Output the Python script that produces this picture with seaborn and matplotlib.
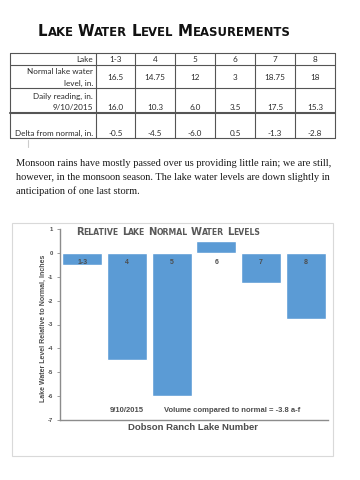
import matplotlib
matplotlib.use("Agg")
import matplotlib.pyplot as plt
import seaborn as sns
import pandas as pd
from matplotlib.offsetbox import TextArea, HPacker, AnchoredOffsetbox

# ---------------- data ----------------
lakes = ["1-3", "4", "5", "6", "7", "8"]
normal_level = ["16.5", "14.75", "12", "3", "18.75", "18"]
daily_reading = ["16.0", "10.3", "6.0", "3.5", "17.5", "15.3"]
delta_text = ["-0.5", "-4.5", "-6.0", "0.5", "-1.3", "-2.8"]
delta_values = [-0.5, -4.5, -6.0, 0.5, -1.25, -2.75]
yticks = [1, 0, -1, -2, -3, -4, -5, -6, -7]

page_title = "Lake Water Level Measurements"
chart_title = "Relative Lake Normal Water Levels"
paragraph = [
    "Monsoon rains have mostly passed over us providing little rain; we are still,",
    "however, in the monsoon season. The lake water levels are down slightly in",
    "anticipation of one last storm.",
]
date_note = "9/10/2015"
volume_note = "Volume compared to normal = -3.8 a-f"
xlabel = "Dobson Ranch Lake Number"
ylabel = "Lake Water Level Relative to Normal, Inches"

sns.set_style("white")
plt.rcParams["font.family"] = ["DejaVu Sans"]

W, H = 360, 480
fig = plt.figure(figsize=(W / 100, H / 100), dpi=100)
fig.patch.set_facecolor("white")

bg = fig.add_axes([0, 0, 1, 1])
bg.set_xlim(0, W)
bg.set_ylim(H, 0)
bg.axis("off")


def small_caps(text, big, small, color, family, x, y, gap):
    words = []
    for w in text.split(" "):
        parts = [TextArea(w[0], textprops=dict(fontsize=big, fontweight="bold",
                                                color=color, family=family))]
        if len(w) > 1:
            parts.append(TextArea(w[1:].upper(), textprops=dict(fontsize=small, fontweight="bold",
                                                                 color=color, family=family)))
        words.append(HPacker(children=parts, align="baseline", pad=0, sep=0))
    box = HPacker(children=words, align="baseline", pad=0, sep=gap)
    ab = AnchoredOffsetbox(loc="center left", child=box, pad=0, borderpad=0,
                           bbox_to_anchor=(x / W, 1 - y / H),
                           bbox_transform=fig.transFigure, frameon=False)
    bg.add_artist(ab)


# ---------------- page title ----------------
small_caps(page_title, 10.8, 8.4, "#111111", "DejaVu Sans", 38, 32, 3.0)

# ---------------- table ----------------
tcol = "#2b2b2b"
tfont = "Lato"
col_x = [10, 96, 135, 175, 215, 255, 295, 335]
row_y = [53, 65, 88, 113, 138]
for x in col_x:
    bg.plot([x, x], [row_y[0], row_y[-1]], color="#555555", lw=0.8)
for i, y in enumerate(row_y):
    bg.plot([col_x[0], col_x[-1]], [y, y], color="#555555", lw=1.5 if i == 3 else 0.8)

fs = 5.9
bg.text(93, 59.5, "Lake", ha="right", va="center", fontsize=fs, color=tcol, family=tfont)
bg.text(93, 71, "Normal lake water", ha="right", va="center", fontsize=fs, color=tcol, family=tfont)
bg.text(93, 83, "level, in.", ha="right", va="center", fontsize=fs, color=tcol, family=tfont)
bg.text(93, 96, "Daily reading, in.", ha="right", va="center", fontsize=fs, color=tcol, family=tfont)
bg.text(93, 108, "9/10/2015", ha="right", va="center", fontsize=fs, color=tcol, family=tfont)
bg.text(93, 133, "Delta from normal, in.", ha="right", va="center", fontsize=fs, color=tcol, family=tfont)
for j in range(6):
    cx = (col_x[j + 1] + col_x[j + 2]) / 2
    bg.text(cx, 59.5, lakes[j], ha="center", va="center", fontsize=fs, color=tcol, family=tfont)
    bg.text(cx, 78, normal_level[j], ha="center", va="center", fontsize=fs, color=tcol, family=tfont)
    bg.text(cx, 108, daily_reading[j], ha="center", va="center", fontsize=fs, color=tcol, family=tfont)
    bg.text(cx, 133, delta_text[j], ha="center", va="center", fontsize=fs, color=tcol, family=tfont)
bg.plot([28, 28], [140, 147], color="#cccccc", lw=0.8)

# ---------------- paragraph ----------------
for k, line in enumerate(paragraph):
    bg.text(16, 164 + k * 13.6, line, ha="left", va="center", fontsize=7.5,
            color="#1a1a1a", family="Liberation Serif")

# ---------------- chart frame ----------------
bg.add_patch(plt.Rectangle((12, 223), 321, 233, fill=False, ec="#d9d9d9", lw=0.8))

# ---------------- bar chart ----------------
ax_left, ax_right, ax_top, ax_bottom = 60, 328, 229, 420
ax = fig.add_axes([ax_left / W, 1 - ax_bottom / H, (ax_right - ax_left) / W,
                   (ax_bottom - ax_top) / H])
ax.set_facecolor("none")
df = pd.DataFrame({"lake": lakes, "delta": delta_values})
sns.barplot(data=df, x="lake", y="delta", color="#5B9BD5", saturation=1,
            width=0.89, ax=ax, zorder=2)
ax.set_ylim(-7, 1)
ax.set_xlim(-0.5, 5.5)
ax.set_yticks(yticks)
ax.set_yticklabels([str(t) for t in yticks], fontsize=4.2, fontweight="bold",
                   color="#4d4d4d", family="Liberation Sans")
ax.set_xticks([])
ax.set_xlabel("")
ax.set_ylabel("")
ax.tick_params(axis="y", length=2, width=0.6, color="#8c8c8c", pad=3, left=True)
for s in ["top", "right"]:
    ax.spines[s].set_visible(False)
for s in ["left", "bottom"]:
    ax.spines[s].set_color("#8c8c8c")
    ax.spines[s].set_linewidth(1.0)

for i, lab in enumerate(lakes):
    ax.text(i, -0.42, lab, ha="center", va="center", fontsize=5.0, fontweight="bold",
            color="#4d4d4d", family="Liberation Sans", zorder=3)

# chart title
small_caps(chart_title, 7.2, 5.6, "#595959", "DejaVu Sans", 76, 232, 2.2)

# notes and labels
bg.text(110, 411, date_note, ha="left", va="center", fontsize=5.5, fontweight="bold",
        color="#4d4d4d", family="Liberation Sans")
bg.text(164, 411, volume_note, ha="left", va="center", fontsize=5.5, fontweight="bold",
        color="#4d4d4d", family="Liberation Sans")
bg.text(193.5, 427, xlabel, ha="center", va="center", fontsize=6.8, fontweight="bold",
        color="#4d4d4d", family="Liberation Sans")
bg.text(43, 328, ylabel, ha="center", va="center", rotation=90, fontsize=5.0,
        fontweight="bold", color="#4d4d4d", family="Liberation Sans")

fig.savefig("out.png", dpi=100, facecolor="white")
